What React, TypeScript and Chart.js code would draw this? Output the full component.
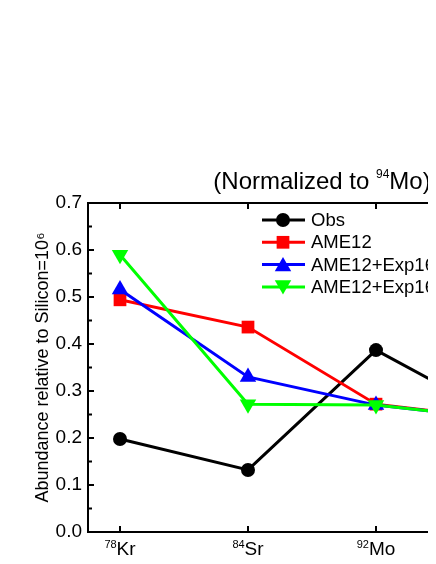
import React, { useEffect, useRef } from 'react';
import { Chart, registerables } from 'chart.js';

Chart.register(...registerables);

// ---- data ----
const massNumbers = ['78', '84', '92', '94'];
const elements = ['Kr', 'Sr', 'Mo', 'Mo'];
const obs = [0.198, 0.132, 0.387, 0.24];
const ame12 = [0.494, 0.436, 0.272, 0.24];
const ame12Exp16 = [0.516, 0.33, 0.27, 0.24];
const ame12Exp16b = [0.59, 0.272, 0.27, 0.24];
const seriesNames = ['Obs', 'AME12', 'AME12+Exp16', 'AME12+Exp16+Exp17'];
const yTickValues = [0, 0.1, 0.2, 0.3, 0.4, 0.5, 0.6, 0.7];
const titleParts = [
  { t: '(Normalized to ', sup: false },
  { t: '94', sup: true },
  { t: 'Mo)', sup: false },
];
const yTitleText = 'Abundance relative to Silicon=10\u2076';

const FONT = '"Liberation Sans", Arial, sans-serif';

const colors = ['#000000', '#ff0000', '#0000ff', '#00ff00'];
const styles = ['circle', 'rect', 'triangle', 'triangle'];
const rotations = [0, 0, 0, 180];
const radii = [7, 9, 9.5, 9.5];

type Part = { t: string; sup: boolean };

function drawRich(
  ctx: CanvasRenderingContext2D,
  parts: Part[],
  cx: number,
  baseline: number,
  mainSize: number,
  supSize: number,
  rise: number
) {
  const fontOf = (p: Part) => `${p.sup ? supSize : mainSize}px ${FONT}`;
  const widths = parts.map((p) => {
    ctx.font = fontOf(p);
    return ctx.measureText(p.t).width;
  });
  const total = widths.reduce((a, b) => a + b, 0);
  let x = cx - total / 2;
  ctx.textAlign = 'left';
  ctx.textBaseline = 'alphabetic';
  ctx.fillStyle = '#000';
  parts.forEach((p, i) => {
    ctx.font = fontOf(p);
    ctx.fillText(p.t, x, p.sup ? baseline - rise : baseline);
    x += widths[i];
  });
}

function drawMarker(ctx: CanvasRenderingContext2D, style: string, rot: number, r: number, x: number, y: number) {
  ctx.beginPath();
  if (style === 'circle') {
    ctx.arc(x, y, r, 0, Math.PI * 2);
  } else if (style === 'rect') {
    const s = Math.SQRT1_2 * r;
    ctx.rect(x - s, y - s, 2 * s, 2 * s);
  } else {
    let rad = (rot * Math.PI) / 180;
    ctx.moveTo(x + Math.sin(rad) * r, y - Math.cos(rad) * r);
    rad += (2 * Math.PI) / 3;
    ctx.lineTo(x + Math.sin(rad) * r, y - Math.cos(rad) * r);
    rad += (2 * Math.PI) / 3;
    ctx.lineTo(x + Math.sin(rad) * r, y - Math.cos(rad) * r);
    ctx.closePath();
  }
  ctx.fill();
}

const framePlugin = {
  id: 'frameTicks',
  beforeDatasetsDraw(chart: any) {
    const { ctx, chartArea } = chart;
    const { left, right, top, bottom } = chartArea;
    const ys = chart.scales.y;
    const xs = chart.scales.x;
    ctx.save();
    ctx.strokeStyle = '#000';
    ctx.lineWidth = 2;
    ctx.strokeRect(left, top, right - left, bottom - top);
    ctx.beginPath();
    yTickValues.forEach((v, i) => {
      const py = ys.getPixelForValue(v);
      ctx.moveTo(left, py);
      ctx.lineTo(left + 6, py);
      ctx.moveTo(right, py);
      ctx.lineTo(right - 6, py);
      if (i < yTickValues.length - 1) {
        const pm = ys.getPixelForValue(v + 0.05);
        ctx.moveTo(left, pm);
        ctx.lineTo(left + 4, pm);
        ctx.moveTo(right, pm);
        ctx.lineTo(right - 4, pm);
      }
    });
    massNumbers.forEach((_, i) => {
      const px = xs.getPixelForValue(i);
      ctx.moveTo(px, bottom);
      ctx.lineTo(px, bottom - 6);
      ctx.moveTo(px, top);
      ctx.lineTo(px, top + 6);
    });
    ctx.stroke();
    ctx.restore();
  },
  afterDraw(chart: any) {
    const { ctx, chartArea } = chart;
    const xs = chart.scales.x;
    ctx.save();
    // category labels with superscript mass numbers
    massNumbers.forEach((m, i) => {
      const px = xs.getPixelForValue(i);
      drawRich(
        ctx,
        [
          { t: m, sup: true },
          { t: elements[i], sup: false },
        ],
        px,
        chartArea.bottom + 23,
        19,
        11,
        7
      );
    });
    // title above the plot frame
    drawRich(ctx, titleParts, (chartArea.left + chartArea.right) / 2 + 10, chartArea.top - 14, 24, 12, 11);
    ctx.restore();
  },
};

const legendPlugin = {
  id: 'innerLegend',
  afterDatasetsDraw(chart: any) {
    const { ctx, chartArea } = chart;
    const x0 = chartArea.left + 174;
    const y0 = chartArea.top + 17;
    ctx.save();
    chart.data.datasets.forEach((ds: any, i: number) => {
      const y = y0 + i * 22.3;
      ctx.strokeStyle = colors[i];
      ctx.fillStyle = colors[i];
      ctx.lineWidth = 3;
      ctx.beginPath();
      ctx.moveTo(x0, y);
      ctx.lineTo(x0 + 43, y);
      ctx.stroke();
      drawMarker(ctx, styles[i], rotations[i], radii[i], x0 + 21, y + (styles[i] === 'triangle' ? (rotations[i] ? -2 : 2) : 0));
      ctx.fillStyle = '#000';
      ctx.font = `18.5px ${FONT}`;
      ctx.textBaseline = 'middle';
      ctx.textAlign = 'left';
      ctx.fillText(ds.label, x0 + 49, y + 1);
    });
    ctx.restore();
  },
};

export default function App() {
  const ref = useRef<HTMLCanvasElement | null>(null);

  useEffect(() => {
    if (!ref.current) return;
    const seriesData = [obs, ame12, ame12Exp16, ame12Exp16b];
    const chart = new Chart(ref.current, {
      type: 'line',
      data: {
        datasets: seriesData.map((arr, i) => ({
          label: seriesNames[i],
          data: arr.map((v, j) => ({ x: j, y: v })),
          borderColor: colors[i],
          backgroundColor: colors[i],
          borderWidth: 3,
          pointStyle: styles[i] as any,
          pointRotation: rotations[i],
          pointRadius: radii[i],
          pointBorderWidth: 0,
          pointBackgroundColor: colors[i],
          fill: false,
          tension: 0,
          order: 3 - i,
        })),
      },
      options: {
        responsive: false,
        animation: false,
        layout: { padding: { top: 203, right: 108, left: 0, bottom: 0 } },
        plugins: {
          legend: { display: false },
          tooltip: { enabled: false },
          title: { display: false },
        },
        scales: {
          x: {
            type: 'linear',
            min: -0.25,
            max: 3.25,
            grid: { display: false, drawTicks: false },
            border: { display: false },
            afterBuildTicks: (scale: any) => {
              scale.ticks = massNumbers.map((_, i) => ({ value: i }));
            },
            afterFit: (scale: any) => {
              scale.height = 32;
            },
            ticks: { display: false, autoSkip: false, maxRotation: 0 },
          },
          y: {
            type: 'linear',
            position: 'left',
            min: 0,
            max: 0.7,
            grid: { display: false, drawTicks: false },
            border: { display: false },
            afterBuildTicks: (scale: any) => {
              scale.ticks = yTickValues.map((v) => ({ value: v }));
            },
            afterFit: (scale: any) => {
              scale.width = 88;
            },
            ticks: {
              padding: 6,
              color: '#000',
              font: { family: FONT, size: 19 },
              callback: (v: any) => Number(v).toFixed(1),
            },
            title: {
              display: true,
              text: yTitleText,
              color: '#000',
              font: { family: FONT, size: 18 },
              padding: { top: 32, bottom: 0 },
            },
          },
        },
      },
      plugins: [framePlugin, legendPlugin],
    });
    return () => chart.destroy();
  }, []);

  return (
    <div style={{ margin: -8, width: 436, height: 564, overflow: 'hidden', position: 'relative', background: '#fff' }}>
      <canvas ref={ref} width={644} height={564} style={{ display: 'block', width: 644, height: 564 }} />
    </div>
  );
}
